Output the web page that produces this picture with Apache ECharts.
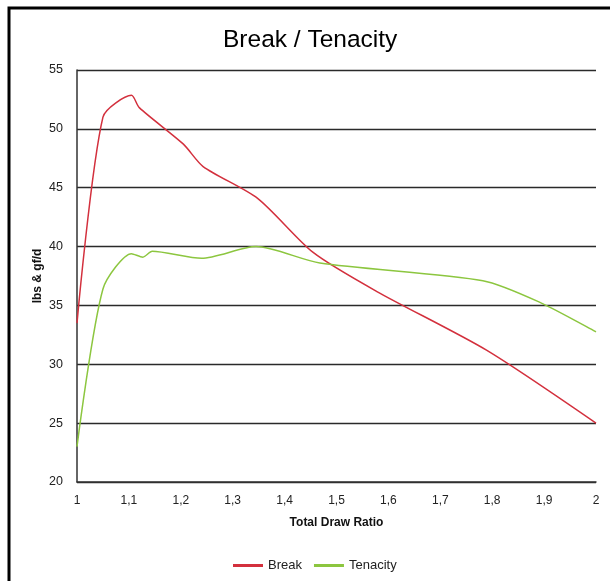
<!DOCTYPE html>
<html>
<head>
<meta charset="utf-8">
<script src="https://cdn.jsdelivr.net/npm/echarts@6/dist/echarts.min.js"></script>
<style>html,body{margin:0;padding:0;background:#fff}#c{width:610px;height:581px}</style>
</head>
<body>
<div id="c"></div>
<script>
var titleText = 'Break / Tenacity';
var xName = 'Total Draw Ratio';
var yName = 'lbs & gf/d';
var seriesNames = ['Break', 'Tenacity'];
var breakData = [[1,33.5],[1.05,51.0],[1.105,52.85],[1.12,51.8],[1.205,48.7],[1.243,46.8],[1.348,44.1],[1.455,39.5],[1.577,36.2],[1.789,31.2],[2,25.0]];
var tenacityData = [[1,23.0],[1.05,36.4],[1.105,39.4],[1.127,39.1],[1.145,39.6],[1.24,39.0],[1.345,40.0],[1.468,38.6],[1.782,37.1],[1.89,35.3],[2,32.75]];

var chart = echarts.init(document.getElementById('c'));
var fam = '"Liberation Sans", Arial, sans-serif';
chart.setOption({
  backgroundColor: '#fff',
  animation: false,
  graphic: [{type:'rect', shape:{x:9,y:8,width:700,height:700}, style:{fill:'none', stroke:'#000', lineWidth:3}, z:100}],
  title: {text: titleText, left: 218, top: 23, textStyle:{fontFamily:fam, fontSize:24.5, fontWeight:'normal', color:'#000'}},
  legend: {data: seriesNames, top: 554, left: 228, icon: 'rect', itemWidth: 30, itemHeight: 3, itemGap: 12,
    textStyle:{fontFamily:fam, fontSize:13, color:'#222'}},
  grid: {left: 77, right: 14, top: 70, bottom: 99, containLabel: false},
  xAxis: {type:'value', min:1, max:2, interval:0.1, name:xName, nameLocation:'middle', nameGap:35, nameMoveOverlap:false,
    nameTextStyle:{fontFamily:fam, fontSize:12, fontWeight:'bold', color:'#111'},
    axisLine:{show:true, onZero:false, lineStyle:{color:'#333', width:1.5}}, axisTick:{show:false},
    splitLine:{show:false},
    axisLabel:{margin:13, fontFamily:fam, fontSize:12, color:'#222', formatter:function(v){return String(+v.toFixed(1)).replace('.', ',');}}},
  yAxis: {type:'value', min:20, max:55, interval:5, name:yName, nameLocation:'middle', nameGap:33, nameMoveOverlap:false,
    nameTextStyle:{fontFamily:fam, fontSize:12, fontWeight:'bold', color:'#111'},
    axisLine:{show:true, lineStyle:{color:'#333', width:1.5}}, axisTick:{show:false},
    splitLine:{show:true, lineStyle:{color:'#2a2a2a', width:1.3}},
    axisLabel:{margin:14, fontFamily:fam, fontSize:12.5, color:'#222'}},
  series: [
    {name: seriesNames[0], type:'line', data: breakData, smooth:0.25, showSymbol:false, symbol:'none', color:'#d3303d', lineStyle:{width:1.5, color:'#d3303d'}},
    {name: seriesNames[1], type:'line', data: tenacityData, smooth:0.25, showSymbol:false, symbol:'none', color:'#8cc63f', lineStyle:{width:1.5, color:'#8cc63f'}}
  ]
});
</script>
</body>
</html>
